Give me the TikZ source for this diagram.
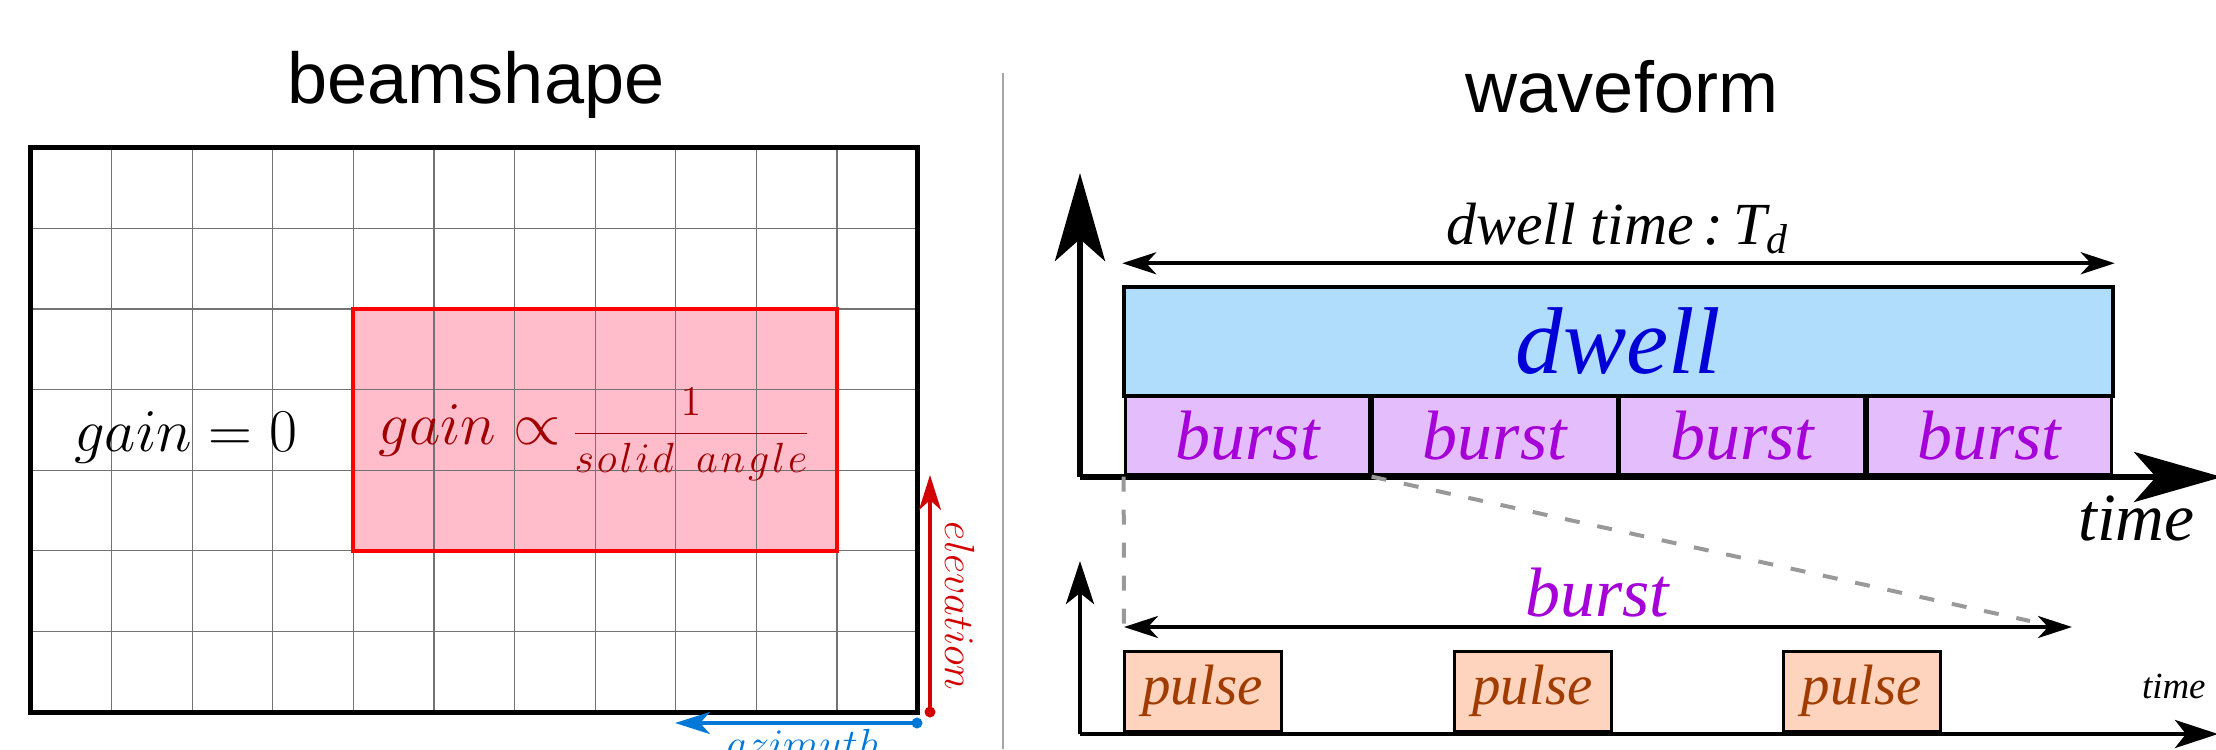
\documentclass[tikz,border=0pt]{standalone}
\usepackage{fontspec}
\setmainfont{Liberation Serif}
\newfontfamily\titlefont{Liberation Sans}
\usetikzlibrary{arrows.meta}

\definecolor{gainred}{RGB}{160,0,0}
\definecolor{beampink}{RGB}{255,188,203}
\definecolor{elevred}{RGB}{210,0,0}
\definecolor{azblue}{RGB}{0,120,215}
\definecolor{dwellfill}{RGB}{176,221,252}
\definecolor{dwellblue}{RGB}{0,0,215}
\definecolor{burstfill}{RGB}{228,190,252}
\definecolor{burstpurple}{RGB}{165,0,215}
\definecolor{pulsefill}{RGB}{255,212,190}
\definecolor{pulsebrown}{RGB}{160,60,0}

\newcommand*{\cell}{0.806}
\newcommand*{\burstw}{2.4725}

\begin{document}
\begin{tikzpicture}
[
	paneltitle/.style={font=\titlefont\fontsize{20.5pt}{24pt}\selectfont,anchor=base},
	dwellbox/.style={draw,line width=0.35mm,fill=dwellfill,minimum width=9.89cm,minimum height=1.09cm,inner sep=0pt,text=dwellblue,font=\itshape\fontsize{27pt}{30pt}\selectfont},
	burstbox/.style={draw,line width=0.32mm,fill=burstfill,minimum width=2.4475cm,minimum height=0.79cm,inner sep=0pt,text=burstpurple,font=\itshape\fontsize{19.9pt}{22pt}\selectfont},
	pulsebox/.style={draw,line width=0.3mm,fill=pulsefill,minimum width=1.57cm,minimum height=0.80cm,inner sep=0pt,text=pulsebrown,font=\itshape\fontsize{16.2pt}{19pt}\selectfont},
	bigaxis/.style={line width=0.55mm,-{Stealth[length=8.8mm,width=5mm,inset=2.2mm]}},
	smallaxis/.style={line width=0.45mm,-{Stealth[length=4.3mm,width=2.8mm,inset=1.1mm]}},
	spanarrow/.style={line width=0.4mm,{Stealth[length=3.4mm,width=2.2mm,inset=1mm]}-{Stealth[length=3.4mm,width=2.2mm,inset=1mm]}},
	dirarrow/.style={line width=0.4mm,-{Stealth[length=3.5mm,width=2.2mm,inset=1mm]}},
	zoomline/.style={draw=gray!80,line width=0.4mm,dash pattern=on 1.5mm off 1.8mm}
]

	\useasboundingbox (0,0) rectangle (22.16,7.49);

	% beamshape
	\node[paneltitle] (beamtitle) at (4.76,6.46) {beamshape};

	\begin{scope}[shift={(0.31,0.37)},scale=\cell]
		\fill[beampink] (4,2) rectangle (10,5);
		\draw[black!55,line width=0.12mm] (0,0) grid (11,7);
		\draw[red,line width=0.4mm] (4,2) rectangle (10,5);
		\draw[line width=0.5mm] (0,0) rectangle (11,7);
		\node[font=\fontsize{16.4pt}{19pt}\selectfont] (gainzero) at (1.92,3.4) {$gain = 0$};
		\node[gainred] (gainprop) at (7.0,3.44)
			{\fontsize{17pt}{20pt}\selectfont$gain \propto$\,%
			{\fontsize{12pt}{14pt}\selectfont$\displaystyle\frac{1}{s\mkern1.2mu o\mkern1.2mu l\mkern1.2mu i\mkern1.2mu d\;\ a\mkern1.2mu n\mkern1.2mu g\mkern1.2mu l\mkern1.2mu e}$}};
	\end{scope}

	% elevation / azimuth
	\coordinate (elev0) at (9.30,0.37);
	\coordinate (elev1) at (9.30,2.74);
	\draw[elevred,dirarrow] (elev0) -- (elev1);
	\fill[elevred] (elev0) circle (0.55mm);
	\node[elevred,rotate=-90,anchor=base,font=\fontsize{12.3pt}{14pt}\selectfont] (elevlabel) at (9.45,1.43) {$elevation$};

	\coordinate (azim0) at (9.17,0.26);
	\coordinate (azim1) at (6.75,0.26);
	\draw[azblue,dirarrow] (azim0) -- (azim1);
	\fill[azblue] (azim0) circle (0.55mm);
	\node[azblue,anchor=base,font=\fontsize{12.3pt}{14pt}\selectfont] (azimlabel) at (8.04,-0.09) {$azimuth$};

	% divider
	\draw[gray!70,line width=0.2mm] (10.03,6.76) -- (10.03,0);

	% waveform
	\node[paneltitle] (wavetitle) at (16.22,6.37) {waveform};

	\node[dwellbox] (dwell) at (16.185,4.075) {dwell};
	\foreach \i in {1,...,4}
		\node[burstbox] (burst\i) at ({11.24+\burstw*(\i-0.5)},3.135) {burst};

	\draw[spanarrow] ([yshift=2.2mm]dwell.north west) -- ([yshift=2.2mm]dwell.north east);
	\node[anchor=base,font=\itshape\fontsize{17pt}{20pt}\selectfont] (dwelltime) at (16.18,5.05) {dwell time\,:\,T\textsubscript{d}};

	% upper axes
	\coordinate (o1) at (10.80,2.72);
	\coordinate (o1y) at (10.80,5.76);
	\coordinate (o1x) at (22.22,2.72);
	\draw[bigaxis] (o1) -- (o1y);
	\draw[bigaxis] (o1) -- (o1x);
	\node[anchor=base east,font=\itshape\fontsize{19.2pt}{22pt}\selectfont] (bigtime) at (22.07,2.09) {time};

	% zoom onto one burst
	\coordinate (spanL) at (11.24,1.22);
	\coordinate (spanR) at (20.72,1.22);
	\coordinate (zoomR) at (20.30,1.28);
	\draw[zoomline] (burst1.south west) -- (spanL);
	\draw[zoomline] (burst1.south east) -- (zoomR);
	\draw[spanarrow] (spanL) -- (spanR);
	\node[anchor=base,text=burstpurple,font=\itshape\fontsize{19.9pt}{22pt}\selectfont] (burstlabel) at (15.97,1.33) {burst};

	\foreach \i/\x in {1/12.025,2/15.325,3/18.62}
		\node[pulsebox] (pulse\i) at (\x,0.58) {pulse};

	% lower axes
	\coordinate (o2) at (10.80,0.15);
	\coordinate (o2y) at (10.80,1.88);
	\coordinate (o2x) at (22.18,0.15);
	\draw[smallaxis] (o2) -- (o2y);
	\draw[smallaxis] (o2) -- (o2x);
	\node[anchor=base east,font=\itshape\fontsize{10.5pt}{12pt}\selectfont] (smalltime) at (22.18,0.51) {time};

\end{tikzpicture}
\end{document}
